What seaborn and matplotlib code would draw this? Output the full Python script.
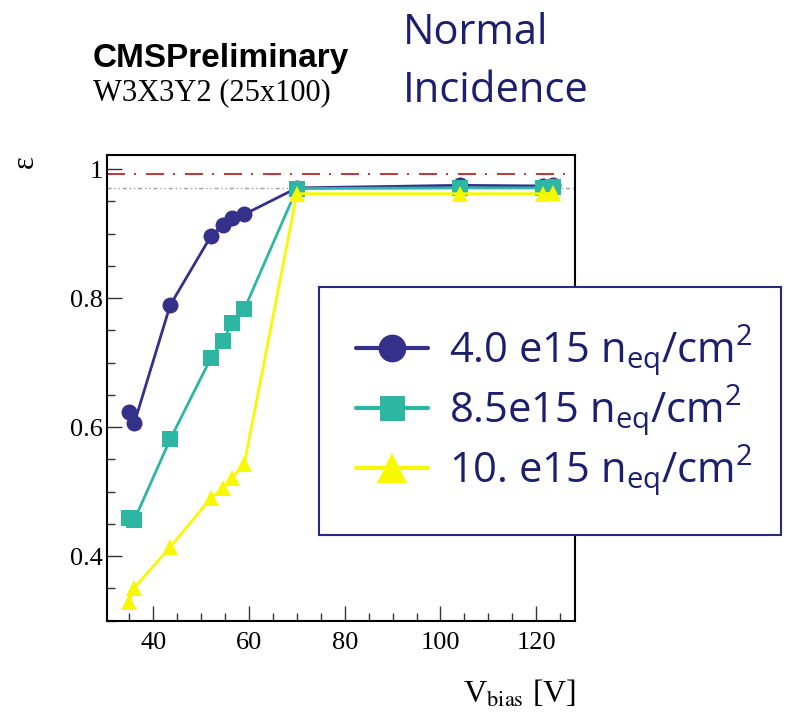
import matplotlib
matplotlib.use("Agg")
import matplotlib.pyplot as plt
from matplotlib.lines import Line2D
from matplotlib.ticker import MultipleLocator
import seaborn as sns

# Bias voltage scan (V) and hit efficiency for three fluences
v_bias = [35, 36, 43.5, 52, 54.5, 56.5, 59, 70, 104, 121.5, 123.5]
eff_4p0 = [0.623, 0.606, 0.789, 0.896, 0.913, 0.924, 0.930, 0.971, 0.975, 0.974, 0.975]
eff_8p5 = [0.460, 0.456, 0.581, 0.707, 0.734, 0.762, 0.783, 0.970, 0.971, 0.971, 0.972]
eff_10 = [0.329, 0.351, 0.414, 0.490, 0.505, 0.522, 0.543, 0.962, 0.962, 0.962, 0.963]

fluence_labels = [
    r"4.0 e15 n$_{\mathrm{eq}}$/cm$^{2}$",
    r"8.5e15 n$_{\mathrm{eq}}$/cm$^{2}$",
    r"10. e15 n$_{\mathrm{eq}}$/cm$^{2}$",
]

# reference efficiency levels
ref_high = 0.992
ref_low = 0.971

x_ticks = [40, 60, 80, 100, 120]
y_ticks = [0.4, 0.6, 0.8, 1.0]
y_tick_labels = ["0.4", "0.6", "0.8", "1"]

sns.set_theme(style="ticks")
plt.rcParams["font.family"] = ["Liberation Serif", "DejaVu Serif"]
plt.rcParams["text.color"] = "black"
plt.rcParams["axes.labelcolor"] = "black"
plt.rcParams["xtick.labelcolor"] = "black"
plt.rcParams["ytick.labelcolor"] = "black"
plt.rcParams["mathtext.fontset"] = "custom"
plt.rcParams["mathtext.rm"] = "Open Sans"
plt.rcParams["mathtext.it"] = "Open Sans:italic"
plt.rcParams["mathtext.bf"] = "Open Sans:bold"

NAVY_TEXT = "#1e1e6e"

fig = plt.figure(figsize=(7.86, 7.19), dpi=100)
ax = fig.add_axes([0.1361, 0.1367, 0.5954, 0.6477])

ax.axhline(ref_high, color="#b01515", lw=1.2, ls=(0, (10.8, 5.4, 1.2, 6.0)), zorder=1)
ax.axhline(ref_low, color="#a0a0a0", lw=1.0, ls=(0, (3, 2, 1, 2, 1, 2)), zorder=1)

styles = [
    (eff_4p0, "#35308a", "o", 11.5, 20),
    (eff_8p5, "#2db7a3", "s", 11, 18),
    (eff_10, "#f8f800", "^", 12, 21),
]
handles = []
for vals, col, mk, ms, lms in styles:
    sns.lineplot(x=v_bias, y=vals, ax=ax, color=col, marker=mk, markersize=ms,
                 markeredgewidth=0, linewidth=2, sort=False, legend=False,
                 zorder=3)
    handles.append(Line2D([], [], color=col, marker=mk, markersize=lms,
                          markeredgewidth=0, lw=3))

ax.set_xlim(30.3, 128.1)
ax.set_ylim(0.30, 1.022)
ax.set_xticks(x_ticks)
ax.set_yticks(y_ticks, y_tick_labels)
ax.xaxis.set_minor_locator(MultipleLocator(5))
ax.yaxis.set_minor_locator(MultipleLocator(0.05))
ax.tick_params(which="both", direction="in", top=False, right=False,
               color="#333333", width=1.0, labelsize=19, labelcolor="black")
ax.tick_params(which="major", length=11)
ax.tick_params(which="minor", length=6)
ax.tick_params(axis="x", pad=8)
ax.tick_params(axis="y", pad=3)
for sp in ax.spines.values():
    sp.set_linewidth(1.5)
    sp.set_color("black")

ax.set_xlabel(r"V$_{\mathrm{bias}}$ [V]", fontsize=23, loc="right",
              math_fontfamily="stix", color="black")
ax.xaxis.set_label_coords(1.003, -0.125)
ax.set_ylabel("ε", fontsize=22, rotation=90, ha="center", va="center",
              color="black")
ax.yaxis.set_label_coords(-0.175, 0.985)

fig.text(0.1183, 1 - 67 / 719, "CMSPreliminary", family="Liberation Sans",
         weight="bold", size=24, va="baseline", color="black")
fig.text(0.1183, 1 - 100 / 719, "W3X3Y2 (25x100)", family="Liberation Serif",
         size=22, va="baseline", color="black")
fig.text(403 / 786, 1 - 44 / 719, "Normal", family="Open Sans", size=30,
         color=NAVY_TEXT, va="baseline")
fig.text(403 / 786, 1 - 102 / 719, "Incidence", family="Open Sans", size=30,
         color=NAVY_TEXT, va="baseline")

leg = fig.legend(handles, fluence_labels, loc="upper left",
                 bbox_to_anchor=(0.4059, 0.2531, 0.5877, 0.3477), mode="expand",
                 prop={"family": "Open Sans", "size": 30}, labelcolor=NAVY_TEXT,
                 fancybox=False, framealpha=1, borderaxespad=0,
                 handlelength=1.73, handletextpad=0.5, borderpad=0.88,
                 labelspacing=0.12)
leg.get_frame().set_edgecolor("#2a2a7a")
leg.get_frame().set_linewidth(1.5)

fig.savefig("out.png", dpi=100, facecolor="white")
